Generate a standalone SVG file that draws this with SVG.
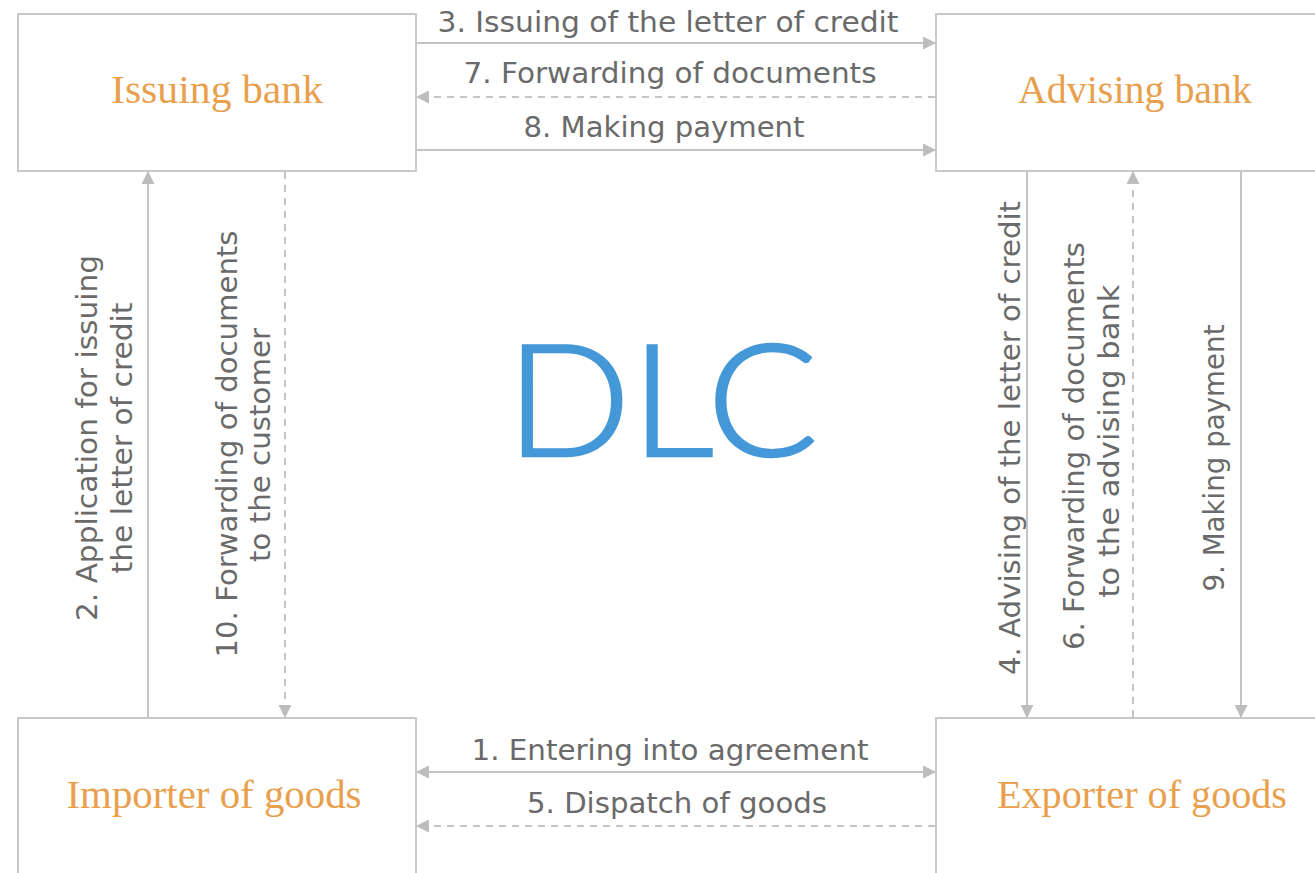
<svg xmlns="http://www.w3.org/2000/svg" width="1315" height="873" viewBox="0 0 1315 873">
  <style>
    .box { fill: #ffffff; stroke: #c9c9c9; stroke-width: 2; }
    .title { font-family: "Liberation Serif", "Times New Roman", serif; font-size: 39px; fill: #e8a04e; text-anchor: middle; }
    .lbl { font-family: "DejaVu Sans", Verdana, sans-serif; font-size: 28px; fill: #6a6a6a; text-anchor: middle; }
    .conn { fill: none; stroke: #c4c4c4; stroke-width: 2; }
    .dash { stroke-dasharray: 7 6; }
    .big { font-family: Lato, "Open Sans", sans-serif; font-weight: 300; font-size: 156px; fill: #4498d7; stroke: #4498d7; stroke-width: 2.5; text-anchor: middle; }
  </style>
  <defs>
    <marker id="arrow" viewBox="0 0 12 12" refX="11" refY="6" markerWidth="13" markerHeight="13" markerUnits="userSpaceOnUse" orient="auto-start-reverse">
      <path d="M0,0 L12,6 L0,12 Z" fill="#bdbdbd"/>
    </marker>
  </defs>
  <rect width="1315" height="873" fill="#ffffff"/>

  <!-- Nodes -->
  <g id="issuing-bank">
    <rect class="box" x="18" y="14" width="398" height="157"/>
    <text class="title" x="217" y="103" textLength="212" lengthAdjust="spacingAndGlyphs">Issuing bank</text>
  </g>
  <g id="advising-bank">
    <rect class="box" x="936" y="14" width="400" height="157"/>
    <text class="title" x="1135" y="103" textLength="234" lengthAdjust="spacingAndGlyphs">Advising bank</text>
  </g>
  <g id="importer">
    <rect class="box" x="18" y="718" width="398" height="170"/>
    <text class="title" x="214" y="808" textLength="295" lengthAdjust="spacingAndGlyphs">Importer of goods</text>
  </g>
  <g id="exporter">
    <rect class="box" x="936" y="718" width="400" height="170"/>
    <text class="title" x="1142" y="808" textLength="290" lengthAdjust="spacingAndGlyphs">Exporter of goods</text>
  </g>

  <!-- Centre title -->
  <g id="dlc">
    <text class="big" x="662" y="456" textLength="312" lengthAdjust="spacingAndGlyphs">DLC</text>
  </g>

  <!-- Connectors -->
  <g id="connectors">
    <!-- between the banks -->
    <line class="conn" x1="417" y1="43" x2="935" y2="43" marker-end="url(#arrow)"/>
    <line class="conn dash" x1="935" y1="97" x2="417" y2="97" marker-end="url(#arrow)"/>
    <line class="conn" x1="417" y1="150" x2="935" y2="150" marker-end="url(#arrow)"/>
    <!-- between importer and exporter -->
    <line class="conn" x1="417" y1="772" x2="935" y2="772" marker-start="url(#arrow)" marker-end="url(#arrow)"/>
    <line class="conn dash" x1="935" y1="826" x2="417" y2="826" marker-end="url(#arrow)"/>
    <!-- left side -->
    <line class="conn" x1="148" y1="717" x2="148" y2="172" marker-end="url(#arrow)"/>
    <line class="conn dash" x1="285" y1="172" x2="285" y2="717" marker-end="url(#arrow)"/>
    <!-- right side -->
    <line class="conn" x1="1027" y1="172" x2="1027" y2="717" marker-end="url(#arrow)"/>
    <line class="conn dash" x1="1133" y1="717" x2="1133" y2="172" marker-end="url(#arrow)"/>
    <line class="conn" x1="1241" y1="172" x2="1241" y2="717" marker-end="url(#arrow)"/>

    <!-- connector labels -->
    <text class="lbl" x="668" y="32" textLength="461" lengthAdjust="spacingAndGlyphs">3. Issuing of the letter of credit</text>
    <text class="lbl" x="670" y="83" textLength="413" lengthAdjust="spacingAndGlyphs">7. Forwarding of documents</text>
    <text class="lbl" x="664" y="137" textLength="281" lengthAdjust="spacingAndGlyphs">8. Making payment</text>
    <text class="lbl" x="670" y="760" textLength="397" lengthAdjust="spacingAndGlyphs">1. Entering into agreement</text>
    <text class="lbl" x="677" y="813" textLength="300" lengthAdjust="spacingAndGlyphs">5. Dispatch of goods</text>

    <text class="lbl" transform="translate(97,438) rotate(-90)" textLength="366" lengthAdjust="spacingAndGlyphs">2. Application for issuing</text>
    <text class="lbl" transform="translate(132,438) rotate(-90)" textLength="271" lengthAdjust="spacingAndGlyphs">the letter of credit</text>
    <text class="lbl" transform="translate(237,444) rotate(-90)" textLength="427" lengthAdjust="spacingAndGlyphs">10. Forwarding of documents</text>
    <text class="lbl" transform="translate(270,445) rotate(-90)" textLength="234" lengthAdjust="spacingAndGlyphs">to the customer</text>

    <text class="lbl" transform="translate(1020,438) rotate(-90)" textLength="474" lengthAdjust="spacingAndGlyphs">4. Advising of the letter of credit</text>
    <text class="lbl" transform="translate(1084,446) rotate(-90)" textLength="408" lengthAdjust="spacingAndGlyphs">6. Forwarding of documents</text>
    <text class="lbl" transform="translate(1119,441) rotate(-90)" textLength="313" lengthAdjust="spacingAndGlyphs">to the advising bank</text>
    <text class="lbl" transform="translate(1224,458) rotate(-90)" textLength="267" lengthAdjust="spacingAndGlyphs">9. Making payment</text>
  </g>
</svg>
